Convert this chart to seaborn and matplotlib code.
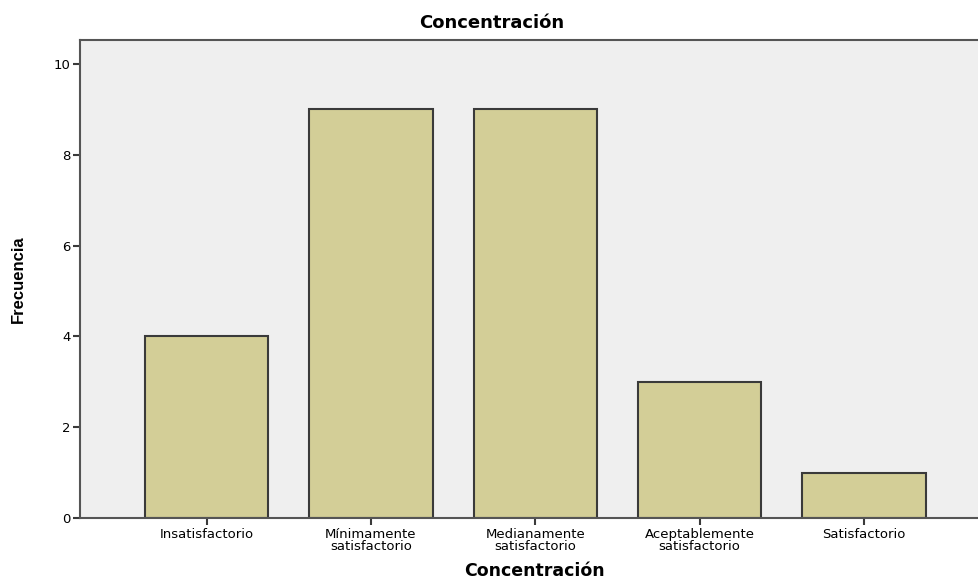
import matplotlib
matplotlib.use("Agg")
import matplotlib.pyplot as plt
import seaborn as sns
import pandas as pd

# Data
categorias = [
    "Insatisfactorio",
    "Mínimamente\nsatisfactorio",
    "Medianamente\nsatisfactorio",
    "Aceptablemente\nsatisfactorio",
    "Satisfactorio",
]
frecuencias = [4, 9, 9, 3, 1]
yticks = [0, 2, 4, 6, 8, 10]

df = pd.DataFrame({"categoria": categorias, "frecuencia": frecuencias})

sns.set_style("white")
plt.rcParams["font.family"] = ["DejaVu Sans"]

fig = plt.figure(figsize=(9.79, 5.85), dpi=100)
ax = fig.add_axes([80 / 979, 67 / 585, 1 - 80 / 979 + 0.01, 478 / 585])
ax.set_facecolor("#efefef")

sns.barplot(data=df, x="categoria", y="frecuencia", color="#d3ce97",
            edgecolor="#3a3a3a", linewidth=1.5, width=0.75, saturation=1, ax=ax)

ax.set_xlim(-0.77, 4.76)
ax.set_ylim(0, 10.53)
ax.set_yticks(yticks)
ax.set_yticklabels([str(t) for t in yticks], fontsize=9.5, color="black")
ax.set_xticks(range(len(categorias)))
ax.set_xticklabels(categorias, fontsize=9.5, linespacing=0.9, color="black")
ax.tick_params(axis="both", direction="out", length=5, width=1.5,
               color="#3a3a3a", pad=2, left=True, bottom=True)

for side in ["left", "bottom", "top"]:
    ax.spines[side].set_color("#555555")
    ax.spines[side].set_linewidth(1.5)
ax.spines["right"].set_visible(False)

ax.set_xlabel("Concentración", fontsize=12.5, fontweight="bold", labelpad=7,
              color="black")
ax.set_ylabel("Frecuencia", fontsize=12, fontweight="bold", labelpad=20,
              color="black", family="Liberation Sans")
fig.text(492 / 979, 1 - 23 / 585, "Concentración", ha="center", va="center",
         fontsize=13, fontweight="bold", color="black")

fig.savefig("out.png", dpi=100)
